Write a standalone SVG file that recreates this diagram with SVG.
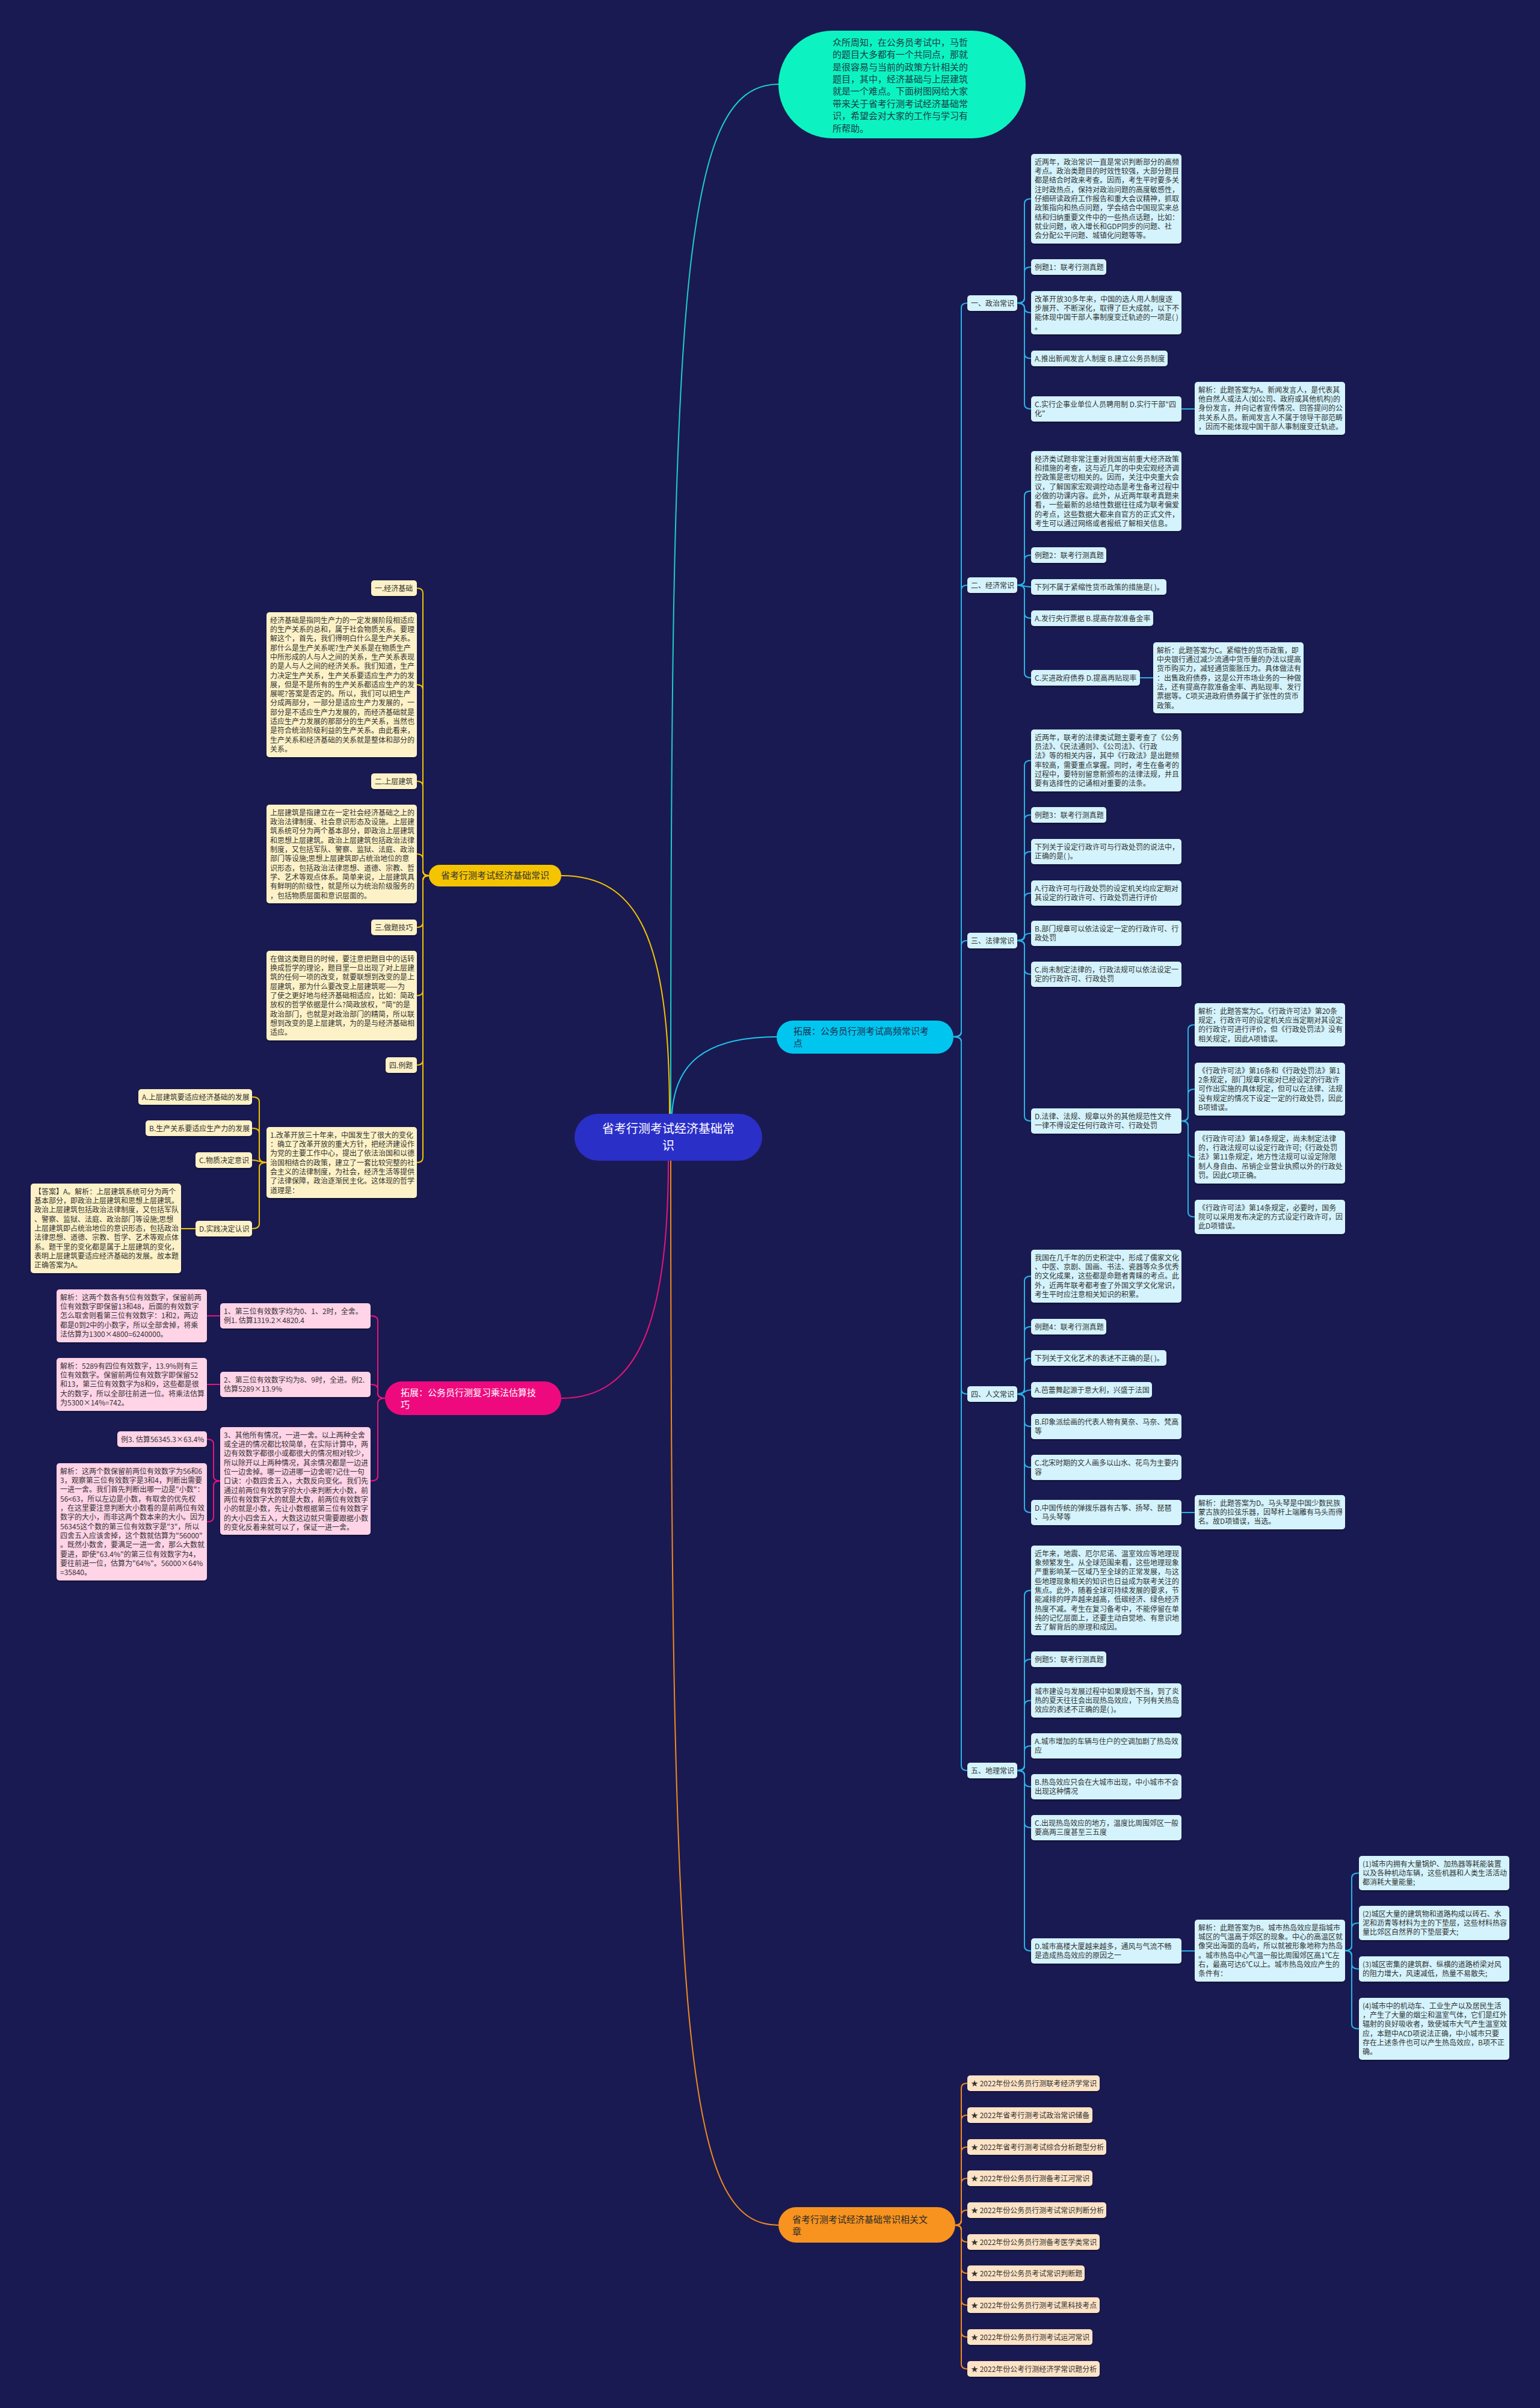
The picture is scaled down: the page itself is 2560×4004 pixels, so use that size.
<svg xmlns="http://www.w3.org/2000/svg" width="2560" height="4004" viewBox="0 0 2560 4004">
<defs>
<filter id="sh" x="-5%" y="-5%" width="110%" height="120%"><feDropShadow dx="0" dy="2" stdDeviation="1.2" flood-color="#000" flood-opacity="0.35"/></filter>
<style>
text{font-family:"Noto Sans CJK SC","Noto Sans",sans-serif;}
.t{font-size:12px;fill:#333;}
.cb{fill:#d4f3fc;filter:url(#sh);}
.yb{fill:#fdf2c7;filter:url(#sh);}
.pb{fill:#ffd4e7;filter:url(#sh);}
.ob{fill:#fde3c6;filter:url(#sh);}
.c{fill:none;stroke-width:2;stroke-linecap:round;}
.lc{stroke:#29b3e6;}
.ly{stroke:#f3c300;}
.lp{stroke:#e8147a;}
.lo{stroke:#f08a1e;}
.n15{font-size:15px;}
</style>
</defs>
<rect width="2560" height="4004" fill="#1a1a52"/>

<g id="connectors">
<path class="c" stroke="#1ecfc4" stroke-width="2.5" d="M1115,1852 C1115,500 1130,140 1294,140"/>
<path class="c ly" stroke-width="2.5" d="M1113,1852 C1113,1560 1060,1456 933,1456"/>
<path class="c" stroke="#1ec8ee" stroke-width="2.5" d="M1117,1852 C1122,1770 1170,1724 1291,1724"/>
<path class="c lp" stroke-width="2.5" d="M1111,1930 C1111,2200 1060,2325 933,2325"/>
<path class="c lo" stroke-width="2.5" d="M1115,1930 C1115,3400 1140,3700 1294,3700"/>

<path class="c lc" d="M1585,1724 Q1598,1724 1598,1716 L1598,512 Q1598,504 1608,504"/>
<path class="c lc" d="M1585,1724 Q1598,1724 1598,1716 L1598,981 Q1598,973 1608,973"/>
<path class="c lc" d="M1585,1724 Q1598,1724 1598,1716 L1598,1572 Q1598,1564 1608,1564"/>
<path class="c lc" d="M1585,1724 Q1598,1724 1598,1732 L1598,2310 Q1598,2318 1608,2318"/>
<path class="c lc" d="M1585,1724 Q1598,1724 1598,1732 L1598,2936 Q1598,2944 1608,2944"/>

<path class="c lc" d="M1691,504 Q1703,504 1703,496 L1703,338.5 Q1703,330.5 1714,330.5"/>
<path class="c lc" d="M1691,504 Q1703,504 1703,496 L1703,452 Q1703,444 1714,444"/>
<path class="c lc" d="M1691,504 Q1703,504 1703,512 Q1703,520 1714,520"/>
<path class="c lc" d="M1691,504 Q1703,504 1703,512 L1703,588 Q1703,596 1714,596"/>
<path class="c lc" d="M1691,504 Q1703,504 1703,512 L1703,672 Q1703,680 1714,680"/>
<path class="c lc" d="M1964,680 L1986,680"/>

<path class="c lc" d="M1691,973 Q1703,973 1703,965 L1703,824.5 Q1703,816.5 1714,816.5"/>
<path class="c lc" d="M1691,973 Q1703,973 1703,965 L1703,931 Q1703,923 1714,923"/>
<path class="c lc" d="M1691,973 C1703,973 1703,976 1714,976"/>
<path class="c lc" d="M1691,973 Q1703,973 1703,981 L1703,1020 Q1703,1028 1714,1028"/>
<path class="c lc" d="M1691,973 Q1703,973 1703,981 L1703,1119 Q1703,1127 1714,1127"/>
<path class="c lc" d="M1895,1127 L1917,1127"/>

<path class="c lc" d="M1691,1564 Q1703,1564 1703,1556 L1703,1272.5 Q1703,1264.5 1714,1264.5"/>
<path class="c lc" d="M1691,1564 Q1703,1564 1703,1556 L1703,1363 Q1703,1355 1714,1355"/>
<path class="c lc" d="M1691,1564 Q1703,1564 1703,1556 L1703,1424 Q1703,1416 1714,1416"/>
<path class="c lc" d="M1691,1564 Q1703,1564 1703,1556 L1703,1493 Q1703,1485 1714,1485"/>
<path class="c lc" d="M1691,1564 Q1703,1564 1703,1558 Q1703,1552 1714,1552"/>
<path class="c lc" d="M1691,1564 Q1703,1564 1703,1572 L1703,1612 Q1703,1620 1714,1620"/>
<path class="c lc" d="M1691,1564 Q1703,1564 1703,1572 L1703,1856 Q1703,1864 1714,1864"/>
<path class="c lc" d="M1964,1864 Q1975,1864 1975,1856 L1975,1712 Q1975,1704 1986,1704"/>
<path class="c lc" d="M1964,1864 Q1975,1864 1975,1856 L1975,1819 Q1975,1811 1986,1811"/>
<path class="c lc" d="M1964,1864 Q1975,1864 1975,1872 L1975,1916 Q1975,1924 1986,1924"/>
<path class="c lc" d="M1964,1864 Q1975,1864 1975,1872 L1975,2015.5 Q1975,2023.5 1986,2023.5"/>

<path class="c lc" d="M1691,2318 Q1703,2318 1703,2310 L1703,2130 Q1703,2122 1714,2122"/>
<path class="c lc" d="M1691,2318 Q1703,2318 1703,2310 L1703,2214 Q1703,2206 1714,2206"/>
<path class="c lc" d="M1691,2318 Q1703,2318 1703,2310 L1703,2266.5 Q1703,2258.5 1714,2258.5"/>
<path class="c lc" d="M1691,2318 C1703,2318 1703,2311 1714,2311"/>
<path class="c lc" d="M1691,2318 Q1703,2318 1703,2326 L1703,2364 Q1703,2372 1714,2372"/>
<path class="c lc" d="M1691,2318 Q1703,2318 1703,2326 L1703,2432 Q1703,2440 1714,2440"/>
<path class="c lc" d="M1691,2318 Q1703,2318 1703,2326 L1703,2507 Q1703,2515 1714,2515"/>
<path class="c lc" d="M1964,2515 L1986,2515"/>

<path class="c lc" d="M1691,2944 Q1703,2944 1703,2936 L1703,2652.5 Q1703,2644.5 1714,2644.5"/>
<path class="c lc" d="M1691,2944 Q1703,2944 1703,2936 L1703,2767 Q1703,2759 1714,2759"/>
<path class="c lc" d="M1691,2944 Q1703,2944 1703,2936 L1703,2835.5 Q1703,2827.5 1714,2827.5"/>
<path class="c lc" d="M1691,2944 Q1703,2944 1703,2936 L1703,2911 Q1703,2903 1714,2903"/>
<path class="c lc" d="M1691,2944 Q1703,2944 1703,2952 L1703,2963 Q1703,2971 1714,2971"/>
<path class="c lc" d="M1691,2944 Q1703,2944 1703,2952 L1703,3031 Q1703,3039 1714,3039"/>
<path class="c lc" d="M1691,2944 Q1703,2944 1703,2952 L1703,3236 Q1703,3244 1714,3244"/>
<path class="c lc" d="M1964,3244 L1986,3244"/>
<path class="c lc" d="M2236,3243.5 Q2247,3243.5 2247,3235.5 L2247,3122.5 Q2247,3114.5 2259,3114.5"/>
<path class="c lc" d="M2236,3243.5 Q2247,3243.5 2247,3235.5 L2247,3205.5 Q2247,3197.5 2259,3197.5"/>
<path class="c lc" d="M2236,3243.5 Q2247,3243.5 2247,3251.5 L2247,3266 Q2247,3274 2259,3274"/>
<path class="c lc" d="M2236,3243.5 Q2247,3243.5 2247,3251.5 L2247,3365.5 Q2247,3373.5 2259,3373.5"/>

<path class="c lo" d="M1588,3700 Q1598,3700 1598,3692 L1598,3472 Q1598,3464 1608,3464"/>
<path class="c lo" d="M1588,3700 Q1598,3700 1598,3692 L1598,3525 Q1598,3517 1608,3517"/>
<path class="c lo" d="M1588,3700 Q1598,3700 1598,3692 L1598,3578 Q1598,3570 1608,3570"/>
<path class="c lo" d="M1588,3700 Q1598,3700 1598,3692 L1598,3630 Q1598,3622 1608,3622"/>
<path class="c lo" d="M1588,3700 Q1598,3700 1598,3692 L1598,3683 Q1598,3675 1608,3675"/>
<path class="c lo" d="M1588,3700 Q1598,3700 1598,3708 L1598,3720 Q1598,3728 1608,3728"/>
<path class="c lo" d="M1588,3700 Q1598,3700 1598,3708 L1598,3772 Q1598,3780 1608,3780"/>
<path class="c lo" d="M1588,3700 Q1598,3700 1598,3708 L1598,3825 Q1598,3833 1608,3833"/>
<path class="c lo" d="M1588,3700 Q1598,3700 1598,3708 L1598,3878 Q1598,3886 1608,3886"/>
<path class="c lo" d="M1588,3700 Q1598,3700 1598,3708 L1598,3931 Q1598,3939 1608,3939"/>

<path class="c ly" d="M713,1456 Q703,1456 703,1448 L703,986 Q703,978 693,978"/>
<path class="c ly" d="M713,1456 Q703,1456 703,1448 L703,1146.5 Q703,1138.5 693,1138.5"/>
<path class="c ly" d="M713,1456 Q703,1456 703,1448 L703,1307 Q703,1299 693,1299"/>
<path class="c ly" d="M713,1456 Q703,1456 703,1448 L703,1428 Q703,1420 693,1420"/>
<path class="c ly" d="M713,1456 Q703,1456 703,1464 L703,1534 Q703,1542 693,1542"/>
<path class="c ly" d="M713,1456 Q703,1456 703,1464 L703,1647.5 Q703,1655.5 693,1655.5"/>
<path class="c ly" d="M713,1456 Q703,1456 703,1464 L703,1763 Q703,1771 693,1771"/>
<path class="c ly" d="M713,1456 Q703,1456 703,1464 L703,1925 Q703,1933 693,1933"/>
<path class="c ly" d="M443,1933 Q431,1933 431,1925 L431,1832 Q431,1824 419,1824"/>
<path class="c ly" d="M443,1933 Q431,1933 431,1925 L431,1884 Q431,1876 419,1876"/>
<path class="c ly" d="M443,1933 C431,1933 431,1929 419,1929"/>
<path class="c ly" d="M443,1933 Q431,1933 431,1941 L431,2035 Q431,2043 419,2043"/>
<path class="c ly" d="M325,2043 L301,2043"/>

<path class="c lp" d="M640,2325 Q628,2325 628,2317 L628,2196 Q628,2188 616,2188"/>
<path class="c lp" d="M640,2325 Q628,2325 628,2317 L628,2310 Q628,2302 616,2302"/>
<path class="c lp" d="M640,2325 Q628,2325 628,2333 L628,2454.5 Q628,2462.5 616,2462.5"/>
<path class="c lp" d="M366,2188 L344,2188"/>
<path class="c lp" d="M366,2302 L344,2302"/>
<path class="c lp" d="M366,2462.5 Q355,2462.5 355,2454.5 L355,2401 Q355,2393 344,2393"/>
<path class="c lp" d="M366,2462.5 Q355,2462.5 355,2470.5 L355,2522.5 Q355,2530.5 344,2530.5"/>
</g>

<g id="root">
<rect x="955" y="1852" width="312" height="78" rx="39" fill="#2a2fc8"/>
<text font-size="20" fill="#fff" text-anchor="middle"><tspan x="1111" y="1884">省考行测考试经济基础常</tspan><tspan x="1111" y="1912">识</tspan></text>
</g>

<g id="intro">
<rect x="1294" y="51" width="411" height="179" rx="89.5" fill="#0cf3c1"/>
<text class="n15" fill="#1d3b45"><tspan x="1384" y="76">众所周知，在公务员考试中，马哲</tspan><tspan x="1384" y="96">的题目大多都有一个共同点，那就</tspan><tspan x="1384" y="117">是很容易与当前的政策方针相关的</tspan><tspan x="1384" y="137">题目，其中，经济基础与上层建筑</tspan><tspan x="1384" y="157">就是一个难点。下面树图网给大家</tspan><tspan x="1384" y="178">带来关于省考行测考试经济基础常</tspan><tspan x="1384" y="198">识，希望会对大家的工作与学习有</tspan><tspan x="1384" y="219">所帮助。</tspan></text>
</g>

<g id="b-cyan">
<rect x="1291" y="1697" width="294" height="55" rx="27.5" fill="#00c6ef"/>
<text class="n15" fill="#1f2d4d"><tspan x="1319" y="1720">拓展：公务员行测考试高频常识考</tspan><tspan x="1319" y="1740">点</tspan></text>
</g>

<g id="b-yellow">
<rect x="713" y="1438" width="220" height="36" rx="18" fill="#f5c400"/>
<text class="n15" fill="#333" text-anchor="middle" x="823" y="1461">省考行测考试经济基础常识</text>
</g>

<g id="b-pink">
<rect x="640" y="2297" width="293" height="56" rx="28" fill="#ee0a7e"/>
<text class="n15" fill="#fff"><tspan x="666" y="2321">拓展：公务员行测复习乘法估算技</tspan><tspan x="666" y="2341">巧</tspan></text>
</g>

<g id="b-orange">
<rect x="1294" y="3670" width="294" height="59" rx="29.5" fill="#f7931e"/>
<text class="n15" fill="#2a2a2a"><tspan x="1317" y="3696">省考行测考试经济基础常识相关文</tspan><tspan x="1317" y="3716">章</tspan></text>
</g>

<!-- section headers -->
<g id="s1"><rect class="cb" x="1608" y="491" width="83" height="26" rx="5"/><text class="t" x="1614" y="509">一、政治常识</text></g>
<g id="s2"><rect class="cb" x="1608" y="960" width="83" height="26" rx="5"/><text class="t" x="1614" y="978">二、经济常识</text></g>
<g id="s3"><rect class="cb" x="1608" y="1551" width="83" height="26" rx="5"/><text class="t" x="1614" y="1569">三、法律常识</text></g>
<g id="s4"><rect class="cb" x="1608" y="2305" width="83" height="26" rx="5"/><text class="t" x="1614" y="2323">四、人文常识</text></g>
<g id="s5"><rect class="cb" x="1608" y="2931" width="83" height="26" rx="5"/><text class="t" x="1614" y="2949">五、地理常识</text></g>

<!-- section 1 -->
<g id="n1-1"><rect class="cb" x="1714" y="256" width="250" height="149" rx="5"/><text class="t"><tspan x="1720" y="274">近两年，政治常识一直是常识判断部分的高频</tspan><tspan x="1720" y="289">考点。政治类题目的时效性较强，大部分题目</tspan><tspan x="1720" y="304">都是结合时政来考查。因而，考生平时要多关</tspan><tspan x="1720" y="320">注时政热点，保持对政治问题的高度敏感性，</tspan><tspan x="1720" y="335">仔细研读政府工作报告和重大会议精神，抓取</tspan><tspan x="1720" y="350">政策指向和热点问题，学会结合中国现实来总</tspan><tspan x="1720" y="366">结和归纳重要文件中的一些热点话题，比如：</tspan><tspan x="1720" y="381">就业问题，收入增长和GDP同步的问题、社</tspan><tspan x="1720" y="396">会分配公平问题、城镇化问题等等。</tspan></text></g>
<g id="n1-2"><rect class="cb" x="1714" y="431" width="125" height="26" rx="5"/><text class="t" x="1720" y="449">例题1：联考行测真题</text></g>
<g id="n1-3"><rect class="cb" x="1714" y="484" width="250" height="72" rx="5"/><text class="t"><tspan x="1720" y="502">改革开放30多年来，中国的选人用人制度逐</tspan><tspan x="1720" y="517">步展开、不断深化，取得了巨大成就，以下不</tspan><tspan x="1720" y="532">能体现中国干部人事制度变迁轨迹的一项是( )</tspan><tspan x="1720" y="548">。</tspan></text></g>
<g id="n1-4"><rect class="cb" x="1714" y="583" width="227" height="26" rx="5"/><text class="t" x="1720" y="601">A.推出新闻发言人制度 B.建立公务员制度</text></g>
<g id="n1-5"><rect class="cb" x="1714" y="659" width="250" height="42" rx="5"/><text class="t"><tspan x="1720" y="677">C.实行企事业单位人员聘用制 D.实行干部"四</tspan><tspan x="1720" y="692">化"</tspan></text></g>
<g id="n1-6"><rect class="cb" x="1986" y="635" width="250" height="88" rx="5"/><text class="t"><tspan x="1992" y="653">解析：此题答案为A。新闻发言人，是代表其</tspan><tspan x="1992" y="668">他自然人或法人(如公司、政府或其他机构)的</tspan><tspan x="1992" y="683">身份发言，并向记者宣传情况、回答提问的公</tspan><tspan x="1992" y="699">共关系人员。新闻发言人不属于领导干部范畴</tspan><tspan x="1992" y="714">，因而不能体现中国干部人事制度变迁轨迹。</tspan></text></g>

<!-- section 2 -->
<g id="n2-1"><rect class="cb" x="1714" y="750" width="250" height="133" rx="5"/><text class="t"><tspan x="1720" y="768">经济类试题非常注重对我国当前重大经济政策</tspan><tspan x="1720" y="783">和措施的考查，这与近几年的中央宏观经济调</tspan><tspan x="1720" y="798">控政策是密切相关的。因而，关注中央重大会</tspan><tspan x="1720" y="814">议，了解国家宏观调控动态是考生备考过程中</tspan><tspan x="1720" y="829">必做的功课内容。此外，从近两年联考真题来</tspan><tspan x="1720" y="844">看，一些最新的总结性数据往往成为联考偏爱</tspan><tspan x="1720" y="860">的考点，这些数据大都来自官方的正式文件，</tspan><tspan x="1720" y="875">考生可以通过网络或者报纸了解相关信息。</tspan></text></g>
<g id="n2-2"><rect class="cb" x="1714" y="910" width="125" height="26" rx="5"/><text class="t" x="1720" y="928">例题2：联考行测真题</text></g>
<g id="n2-3"><rect class="cb" x="1714" y="963" width="225" height="26" rx="5"/><text class="t" x="1720" y="981">下列不属于紧缩性货币政策的措施是( )。</text></g>
<g id="n2-4"><rect class="cb" x="1714" y="1015" width="203" height="26" rx="5"/><text class="t" x="1720" y="1033">A.发行央行票据 B.提高存款准备金率</text></g>
<g id="n2-5"><rect class="cb" x="1714" y="1114" width="181" height="26" rx="5"/><text class="t" x="1720" y="1132">C.买进政府债券 D.提高再贴现率</text></g>
<g id="n2-6"><rect class="cb" x="1917" y="1068" width="250" height="118" rx="5"/><text class="t"><tspan x="1923" y="1086">解析：此题答案为C。紧缩性的货币政策，即</tspan><tspan x="1923" y="1101">中央银行通过减少流通中货币量的办法以提高</tspan><tspan x="1923" y="1116">货币购买力，减轻通货膨胀压力。具体做法有</tspan><tspan x="1923" y="1132">：出售政府债券，这是公开市场业务的一种做</tspan><tspan x="1923" y="1147">法，还有提高存款准备金率、再贴现率、发行</tspan><tspan x="1923" y="1162">票据等。C项买进政府债券属于扩张性的货币</tspan><tspan x="1923" y="1178">政策。</tspan></text></g>

<!-- section 3 -->
<g id="n3-1"><rect class="cb" x="1714" y="1213" width="250" height="103" rx="5"/><text class="t"><tspan x="1720" y="1231">近两年，联考的法律类试题主要考查了《公务</tspan><tspan x="1720" y="1246">员法》、《民法通则》、《公司法》、《行政</tspan><tspan x="1720" y="1261">法》等的相关内容，其中《行政法》是出题频</tspan><tspan x="1720" y="1277">率较高，需要重点掌握。同时，考生在备考的</tspan><tspan x="1720" y="1292">过程中，要特别留意新颁布的法律法规，并且</tspan><tspan x="1720" y="1307">要有选择性的记诵相对重要的法条。</tspan></text></g>
<g id="n3-2"><rect class="cb" x="1714" y="1342" width="125" height="26" rx="5"/><text class="t" x="1720" y="1360">例题3：联考行测真题</text></g>
<g id="n3-3"><rect class="cb" x="1714" y="1395" width="250" height="42" rx="5"/><text class="t"><tspan x="1720" y="1413">下列关于设定行政许可与行政处罚的说法中，</tspan><tspan x="1720" y="1428">正确的是( )。</tspan></text></g>
<g id="n3-4"><rect class="cb" x="1714" y="1464" width="250" height="42" rx="5"/><text class="t"><tspan x="1720" y="1482">A.行政许可与行政处罚的设定机关均应定期对</tspan><tspan x="1720" y="1497">其设定的行政许可、行政处罚进行评价</tspan></text></g>
<g id="n3-5"><rect class="cb" x="1714" y="1531" width="250" height="42" rx="5"/><text class="t"><tspan x="1720" y="1549">B.部门规章可以依法设定一定的行政许可、行</tspan><tspan x="1720" y="1564">政处罚</tspan></text></g>
<g id="n3-6"><rect class="cb" x="1714" y="1599" width="250" height="42" rx="5"/><text class="t"><tspan x="1720" y="1617">C.尚未制定法律的，行政法规可以依法设定一</tspan><tspan x="1720" y="1632">定的行政许可、行政处罚</tspan></text></g>
<g id="n3-7"><rect class="cb" x="1714" y="1843" width="250" height="42" rx="5"/><text class="t"><tspan x="1720" y="1861">D.法律、法规、规章以外的其他规范性文件</tspan><tspan x="1720" y="1876">一律不得设定任何行政许可、行政处罚</tspan></text></g>
<g id="n3-8"><rect class="cb" x="1986" y="1668" width="250" height="72" rx="5"/><text class="t"><tspan x="1992" y="1686">解析：此题答案为C。《行政许可法》第20条</tspan><tspan x="1992" y="1701">规定，行政许可的设定机关应当定期对其设定</tspan><tspan x="1992" y="1716">的行政许可进行评价，但《行政处罚法》没有</tspan><tspan x="1992" y="1732">相关规定，因此A项错误。</tspan></text></g>
<g id="n3-9"><rect class="cb" x="1986" y="1767" width="250" height="88" rx="5"/><text class="t"><tspan x="1992" y="1785">《行政许可法》第16条和《行政处罚法》第1</tspan><tspan x="1992" y="1800">2条规定，部门规章只能对已经设定的行政许</tspan><tspan x="1992" y="1815">可作出实施的具体规定，但可以在法律、法规</tspan><tspan x="1992" y="1831">没有规定的情况下设定一定的行政处罚，因此</tspan><tspan x="1992" y="1846">B项错误。</tspan></text></g>
<g id="n3-10"><rect class="cb" x="1986" y="1880" width="250" height="88" rx="5"/><text class="t"><tspan x="1992" y="1898">《行政许可法》第14条规定，尚未制定法律</tspan><tspan x="1992" y="1913">的，行政法规可以设定行政许可;《行政处罚</tspan><tspan x="1992" y="1928">法》第11条规定，地方性法规可以设定除限</tspan><tspan x="1992" y="1944">制人身自由、吊销企业营业执照以外的行政处</tspan><tspan x="1992" y="1959">罚。因此C项正确。</tspan></text></g>
<g id="n3-11"><rect class="cb" x="1986" y="1995" width="250" height="57" rx="5"/><text class="t"><tspan x="1992" y="2013">《行政许可法》第14条规定，必要时，国务</tspan><tspan x="1992" y="2028">院可以采用发布决定的方式设定行政许可，因</tspan><tspan x="1992" y="2043">此D项错误。</tspan></text></g>

<!-- section 4 -->
<g id="n4-1"><rect class="cb" x="1714" y="2078" width="250" height="88" rx="5"/><text class="t"><tspan x="1720" y="2096">我国在几千年的历史积淀中，形成了儒家文化</tspan><tspan x="1720" y="2111">、中医、京剧、国画、书法、瓷器等众多优秀</tspan><tspan x="1720" y="2126">的文化成果，这些都是命题者青睐的考点。此</tspan><tspan x="1720" y="2142">外，近两年联考都考查了外国文学文化常识，</tspan><tspan x="1720" y="2157">考生平时应注意相关知识的积累。</tspan></text></g>
<g id="n4-2"><rect class="cb" x="1714" y="2193" width="125" height="26" rx="5"/><text class="t" x="1720" y="2211">例题4：联考行测真题</text></g>
<g id="n4-3"><rect class="cb" x="1714" y="2245" width="225" height="26" rx="5"/><text class="t" x="1720" y="2263">下列关于文化艺术的表述不正确的是( )。</text></g>
<g id="n4-4"><rect class="cb" x="1714" y="2298" width="201" height="26" rx="5"/><text class="t" x="1720" y="2316">A.芭蕾舞起源于意大利，兴盛于法国</text></g>
<g id="n4-5"><rect class="cb" x="1714" y="2351" width="250" height="42" rx="5"/><text class="t"><tspan x="1720" y="2369">B.印象派绘画的代表人物有莫奈、马奈、梵高</tspan><tspan x="1720" y="2384">等</tspan></text></g>
<g id="n4-6"><rect class="cb" x="1714" y="2419" width="250" height="42" rx="5"/><text class="t"><tspan x="1720" y="2437">C.北宋时期的文人画多以山水、花鸟为主要内</tspan><tspan x="1720" y="2452">容</tspan></text></g>
<g id="n4-7"><rect class="cb" x="1714" y="2494" width="250" height="42" rx="5"/><text class="t"><tspan x="1720" y="2512">D.中国传统的弹拨乐器有古筝、扬琴、琵琶</tspan><tspan x="1720" y="2527">、马头琴等</tspan></text></g>
<g id="n4-8"><rect class="cb" x="1986" y="2486" width="250" height="57" rx="5"/><text class="t"><tspan x="1992" y="2504">解析：此题答案为D。马头琴是中国少数民族</tspan><tspan x="1992" y="2519">蒙古族的拉弦乐器，因琴杆上端雕有马头而得</tspan><tspan x="1992" y="2534">名。故D项错误，当选。</tspan></text></g>

<!-- section 5 -->
<g id="n5-1"><rect class="cb" x="1714" y="2570" width="250" height="149" rx="5"/><text class="t"><tspan x="1720" y="2588">近年来，地震、厄尔尼诺、温室效应等地理现</tspan><tspan x="1720" y="2603">象频繁发生。从全球范围来看，这些地理现象</tspan><tspan x="1720" y="2618">严重影响某一区域乃至全球的正常发展，与这</tspan><tspan x="1720" y="2634">些地理现象相关的知识也日益成为联考关注的</tspan><tspan x="1720" y="2649">焦点。此外，随着全球可持续发展的要求，节</tspan><tspan x="1720" y="2664">能减排的呼声越来越高，低碳经济、绿色经济</tspan><tspan x="1720" y="2680">热度不减。考生在复习备考中，不能停留在单</tspan><tspan x="1720" y="2695">纯的记忆层面上，还要主动自觉地、有意识地</tspan><tspan x="1720" y="2710">去了解背后的原理和成因。</tspan></text></g>
<g id="n5-2"><rect class="cb" x="1714" y="2746" width="125" height="26" rx="5"/><text class="t" x="1720" y="2764">例题5：联考行测真题</text></g>
<g id="n5-3"><rect class="cb" x="1714" y="2799" width="250" height="57" rx="5"/><text class="t"><tspan x="1720" y="2817">城市建设与发展过程中如果规划不当，到了炎</tspan><tspan x="1720" y="2832">热的夏天往往会出现热岛效应，下列有关热岛</tspan><tspan x="1720" y="2847">效应的表述不正确的是( )。</tspan></text></g>
<g id="n5-4"><rect class="cb" x="1714" y="2882" width="250" height="42" rx="5"/><text class="t"><tspan x="1720" y="2900">A.城市增加的车辆与住户的空调加剧了热岛效</tspan><tspan x="1720" y="2915">应</tspan></text></g>
<g id="n5-5"><rect class="cb" x="1714" y="2950" width="250" height="42" rx="5"/><text class="t"><tspan x="1720" y="2968">B.热岛效应只会在大城市出现，中小城市不会</tspan><tspan x="1720" y="2983">出现这种情况</tspan></text></g>
<g id="n5-6"><rect class="cb" x="1714" y="3018" width="250" height="42" rx="5"/><text class="t"><tspan x="1720" y="3036">C.出现热岛效应的地方，温度比周围郊区一般</tspan><tspan x="1720" y="3051">要高两三度甚至三五度</tspan></text></g>
<g id="n5-7"><rect class="cb" x="1714" y="3223" width="250" height="42" rx="5"/><text class="t"><tspan x="1720" y="3241">D.城市高楼大厦越来越多，通风与气流不畅</tspan><tspan x="1720" y="3256">是造成热岛效应的原因之一</tspan></text></g>
<g id="n5-8"><rect class="cb" x="1986" y="3192" width="250" height="103" rx="5"/><text class="t"><tspan x="1992" y="3210">解析：此题答案为B。城市热岛效应是指城市</tspan><tspan x="1992" y="3225">城区的气温高于郊区的现象。中心的高温区就</tspan><tspan x="1992" y="3240">像突出海面的岛屿，所以就被形象地称为热岛</tspan><tspan x="1992" y="3256">。城市热岛中心气温一般比周围郊区高1℃左</tspan><tspan x="1992" y="3271">右，最高可达6℃以上。城市热岛效应产生的</tspan><tspan x="1992" y="3286">条件有：</tspan></text></g>
<g id="n5-9"><rect class="cb" x="2259" y="3086" width="250" height="57" rx="5"/><text class="t"><tspan x="2265" y="3104">(1)城市内拥有大量锅炉、加热器等耗能装置</tspan><tspan x="2265" y="3119">以及各种机动车辆，这些机器和人类生活活动</tspan><tspan x="2265" y="3134">都消耗大量能量;</tspan></text></g>
<g id="n5-10"><rect class="cb" x="2259" y="3169" width="250" height="57" rx="5"/><text class="t"><tspan x="2265" y="3187">(2)城区大量的建筑物和道路构成以砖石、水</tspan><tspan x="2265" y="3202">泥和沥青等材料为主的下垫层，这些材料热容</tspan><tspan x="2265" y="3217">量比郊区自然界的下垫层要大;</tspan></text></g>
<g id="n5-11"><rect class="cb" x="2259" y="3253" width="250" height="42" rx="5"/><text class="t"><tspan x="2265" y="3271">(3)城区密集的建筑群、纵横的道路桥梁对风</tspan><tspan x="2265" y="3286">的阻力增大，风速减低，热量不易散失;</tspan></text></g>
<g id="n5-12"><rect class="cb" x="2259" y="3322" width="250" height="103" rx="5"/><text class="t"><tspan x="2265" y="3340">(4)城市中的机动车、工业生产以及居民生活</tspan><tspan x="2265" y="3355">，产生了大量的烟尘和温室气体，它们是红外</tspan><tspan x="2265" y="3370">辐射的良好吸收者，致使城市大气产生温室效</tspan><tspan x="2265" y="3386">应，本题中ACD项说法正确，中小城市只要</tspan><tspan x="2265" y="3401">存在上述条件也可以产生热岛效应，B项不正</tspan><tspan x="2265" y="3416">确。</tspan></text></g>

<!-- orange list -->
<g id="o1"><rect class="ob" x="1608" y="3451" width="220" height="26" rx="5"/><text class="t" x="1614" y="3469">★ 2022年份公务员行测联考经济学常识</text></g>
<g id="o2"><rect class="ob" x="1608" y="3504" width="208" height="26" rx="5"/><text class="t" x="1614" y="3522">★ 2022年省考行测考试政治常识储备</text></g>
<g id="o3"><rect class="ob" x="1608" y="3557" width="231" height="26" rx="5"/><text class="t" x="1614" y="3575">★ 2022年省考行测考试综合分析题型分析</text></g>
<g id="o4"><rect class="ob" x="1608" y="3609" width="208" height="26" rx="5"/><text class="t" x="1614" y="3627">★ 2022年份公务员行测备考江河常识</text></g>
<g id="o5"><rect class="ob" x="1608" y="3662" width="231" height="26" rx="5"/><text class="t" x="1614" y="3680">★ 2022年份公务员行测考试常识判断分析</text></g>
<g id="o6"><rect class="ob" x="1608" y="3715" width="220" height="26" rx="5"/><text class="t" x="1614" y="3733">★ 2022年份公务员行测备考医学类常识</text></g>
<g id="o7"><rect class="ob" x="1608" y="3767" width="195" height="26" rx="5"/><text class="t" x="1614" y="3785">★ 2022年份公务员考试常识判断题</text></g>
<g id="o8"><rect class="ob" x="1608" y="3820" width="220" height="26" rx="5"/><text class="t" x="1614" y="3838">★ 2022年份公务员行测考试黑科技考点</text></g>
<g id="o9"><rect class="ob" x="1608" y="3873" width="208" height="26" rx="5"/><text class="t" x="1614" y="3891">★ 2022年份公务员行测考试运河常识</text></g>
<g id="o10"><rect class="ob" x="1608" y="3926" width="220" height="26" rx="5"/><text class="t" x="1614" y="3944">★ 2022年份公考行测经济学常识题分析</text></g>

<!-- yellow branch -->
<g id="y1"><rect class="yb" x="617" y="965" width="76" height="26" rx="5"/><text class="t" x="623" y="983">一.经济基础</text></g>
<g id="y2"><rect class="yb" x="443" y="1018" width="250" height="241" rx="5"/><text class="t"><tspan x="449" y="1036">经济基础是指同生产力的一定发展阶段相适应</tspan><tspan x="449" y="1051">的生产关系的总和，属于社会物质关系。要理</tspan><tspan x="449" y="1066">解这个，首先，我们得明白什么是生产关系。</tspan><tspan x="449" y="1082">那什么是生产关系呢?生产关系是在物质生产</tspan><tspan x="449" y="1097">中所形成的人与人之间的关系，生产关系表现</tspan><tspan x="449" y="1112">的是人与人之间的经济关系。我们知道，生产</tspan><tspan x="449" y="1128">力决定生产关系，生产关系要适应生产力的发</tspan><tspan x="449" y="1143">展，但是不是所有的生产关系都适应生产的发</tspan><tspan x="449" y="1158">展呢?答案是否定的。所以，我们可以把生产</tspan><tspan x="449" y="1173">分成两部分，一部分是适应生产力发展的，一</tspan><tspan x="449" y="1189">部分是不适应生产力发展的，而经济基础就是</tspan><tspan x="449" y="1204">适应生产力发展的那部分的生产关系，当然也</tspan><tspan x="449" y="1219">是符合统治阶级利益的生产关系。由此看来，</tspan><tspan x="449" y="1235">生产关系和经济基础的关系就是整体和部分的</tspan><tspan x="449" y="1250">关系。</tspan></text></g>
<g id="y3"><rect class="yb" x="617" y="1286" width="76" height="26" rx="5"/><text class="t" x="623" y="1304">二.上层建筑</text></g>
<g id="y4"><rect class="yb" x="443" y="1338" width="250" height="164" rx="5"/><text class="t"><tspan x="449" y="1356">上层建筑是指建立在一定社会经济基础之上的</tspan><tspan x="449" y="1371">政治法律制度、社会意识形态及设施。上层建</tspan><tspan x="449" y="1386">筑系统可分为两个基本部分，即政治上层建筑</tspan><tspan x="449" y="1402">和思想上层建筑。政治上层建筑包括政治法律</tspan><tspan x="449" y="1417">制度，又包括军队、警察、监狱、法庭、政治</tspan><tspan x="449" y="1432">部门等设施;思想上层建筑即占统治地位的意</tspan><tspan x="449" y="1448">识形态，包括政治法律思想、道德、宗教、哲</tspan><tspan x="449" y="1463">学、艺术等观点体系。简单来说，上层建筑具</tspan><tspan x="449" y="1478">有鲜明的阶级性，就是所以为统治阶级服务的</tspan><tspan x="449" y="1494">，包括物质层面和意识层面的。</tspan></text></g>
<g id="y5"><rect class="yb" x="617" y="1529" width="76" height="26" rx="5"/><text class="t" x="623" y="1547">三.做题技巧</text></g>
<g id="y6"><rect class="yb" x="443" y="1581" width="250" height="149" rx="5"/><text class="t"><tspan x="449" y="1599">在做这类题目的时候，要注意把题目中的话转</tspan><tspan x="449" y="1614">换成哲学的理论，题目里一旦出现了对上层建</tspan><tspan x="449" y="1629">筑的任何一项的改变，就要联想到改变的是上</tspan><tspan x="449" y="1645">层建筑，那为什么要改变上层建筑呢——为</tspan><tspan x="449" y="1660">了使之更好地与经济基础相适应，比如：简政</tspan><tspan x="449" y="1675">放权的哲学依据是什么?简政放权，"简"的是</tspan><tspan x="449" y="1691">政治部门，也就是对政治部门的精简，所以联</tspan><tspan x="449" y="1706">想到改变的是上层建筑，为的是与经济基础相</tspan><tspan x="449" y="1721">适应。</tspan></text></g>
<g id="y7"><rect class="yb" x="641" y="1758" width="52" height="26" rx="5"/><text class="t" x="647" y="1776">四.例题</text></g>
<g id="y8"><rect class="yb" x="443" y="1874" width="250" height="118" rx="5"/><text class="t"><tspan x="449" y="1892">1.改革开放三十年来，中国发生了很大的变化</tspan><tspan x="449" y="1907">：确立了改革开放的重大方针，把经济建设作</tspan><tspan x="449" y="1922">为党的主要工作中心，提出了依法治国和以德</tspan><tspan x="449" y="1938">治国相结合的政策，建立了一套比较完整的社</tspan><tspan x="449" y="1953">会主义的法律制度，为社会，经济生活等提供</tspan><tspan x="449" y="1968">了法律保障，政治逐渐民主化。这体现的哲学</tspan><tspan x="449" y="1984">道理是：</tspan></text></g>
<g id="y9"><rect class="yb" x="230" y="1811" width="189" height="26" rx="5"/><text class="t" x="236" y="1829">A.上层建筑要适应经济基础的发展</text></g>
<g id="y10"><rect class="yb" x="242" y="1863" width="177" height="26" rx="5"/><text class="t" x="248" y="1881">B.生产关系要适应生产力的发展</text></g>
<g id="y11"><rect class="yb" x="325" y="1916" width="94" height="26" rx="5"/><text class="t" x="331" y="1934">C.物质决定意识</text></g>
<g id="y12"><rect class="yb" x="325" y="2030" width="94" height="26" rx="5"/><text class="t" x="331" y="2048">D.实践决定认识</text></g>
<g id="y13"><rect class="yb" x="51" y="1968" width="250" height="149" rx="5"/><text class="t"><tspan x="57" y="1986">【答案】A。解析：上层建筑系统可分为两个</tspan><tspan x="57" y="2001">基本部分，即政治上层建筑和思想上层建筑。</tspan><tspan x="57" y="2016">政治上层建筑包括政治法律制度，又包括军队</tspan><tspan x="57" y="2032">、警察、监狱、法庭、政治部门等设施;思想</tspan><tspan x="57" y="2047">上层建筑即占统治地位的意识形态，包括政治</tspan><tspan x="57" y="2062">法律思想、道德、宗教、哲学、艺术等观点体</tspan><tspan x="57" y="2078">系。题干里的变化都是属于上层建筑的变化，</tspan><tspan x="57" y="2093">表明上层建筑要适应经济基础的发展。故本题</tspan><tspan x="57" y="2108">正确答案为A。</tspan></text></g>

<!-- pink branch -->
<g id="p1"><rect class="pb" x="366" y="2167" width="250" height="42" rx="5"/><text class="t"><tspan x="372" y="2185">1、第三位有效数字均为0、1、2时，全舍。</tspan><tspan x="372" y="2200">例1. 估算1319.2×4820.4</tspan></text></g>
<g id="p2"><rect class="pb" x="366" y="2281" width="250" height="42" rx="5"/><text class="t"><tspan x="372" y="2299">2、第三位有效数字均为8、9时，全进。例2.</tspan><tspan x="372" y="2314">估算5289×13.9%</tspan></text></g>
<g id="p3"><rect class="pb" x="366" y="2373" width="250" height="179" rx="5"/><text class="t"><tspan x="372" y="2391">3、其他所有情况，一进一舍。以上两种全舍</tspan><tspan x="372" y="2406">或全进的情况都比较简单，在实际计算中，两</tspan><tspan x="372" y="2421">边有效数字都很小或都很大的情况相对较少，</tspan><tspan x="372" y="2437">所以除开以上两种情况，其余情况都是一边进</tspan><tspan x="372" y="2452">位一边舍掉。哪一边进哪一边舍呢?记住一句</tspan><tspan x="372" y="2467">口诀：小数四舍五入，大数反向变化。我们先</tspan><tspan x="372" y="2483">通过前两位有效数字的大小来判断大小数，前</tspan><tspan x="372" y="2498">两位有效数字大的就是大数，前两位有效数字</tspan><tspan x="372" y="2513">小的就是小数，先让小数根据第三位有效数字</tspan><tspan x="372" y="2529">的大小四舍五入，大数这边就只需要跟据小数</tspan><tspan x="372" y="2544">的变化反着来就可以了，保证一进一舍。</tspan></text></g>
<g id="q1"><rect class="pb" x="94" y="2144" width="250" height="88" rx="5"/><text class="t"><tspan x="100" y="2162">解析：这两个数各有5位有效数字，保留前两</tspan><tspan x="100" y="2177">位有效数字即保留13和48，后面的有效数字</tspan><tspan x="100" y="2192">怎么取舍则看第三位有效数字：1和2，两边</tspan><tspan x="100" y="2208">都是0到2中的小数字，所以全部舍掉，将乘</tspan><tspan x="100" y="2223">法估算为1300×4800=6240000。</tspan></text></g>
<g id="q2"><rect class="pb" x="94" y="2258" width="250" height="88" rx="5"/><text class="t"><tspan x="100" y="2276">解析：5289有四位有效数字，13.9%则有三</tspan><tspan x="100" y="2291">位有效数字。保留前两位有效数字即保留52</tspan><tspan x="100" y="2306">和13，第三位有效数字为8和9，这些都是很</tspan><tspan x="100" y="2322">大的数字，所以全部往前进一位。将乘法估算</tspan><tspan x="100" y="2337">为5300×14%=742。</tspan></text></g>
<g id="q3"><rect class="pb" x="195" y="2380" width="149" height="26" rx="5"/><text class="t" x="201" y="2398">例3. 估算56345.3×63.4%</text></g>
<g id="q4"><rect class="pb" x="94" y="2433" width="250" height="195" rx="5"/><text class="t"><tspan x="100" y="2451">解析：这两个数保留前两位有效数字为56和6</tspan><tspan x="100" y="2466">3，观察第三位有效数字是3和4，判断出需要</tspan><tspan x="100" y="2481">一进一舍。我们首先判断出哪一边是"小数"：</tspan><tspan x="100" y="2497">56&lt;63，所以左边是小数，有取舍的优先权</tspan><tspan x="100" y="2512">，在这里要注意判断大小数看的是前两位有效</tspan><tspan x="100" y="2527">数字的大小，而非这两个数本来的大小。因为</tspan><tspan x="100" y="2543">56345这个数的第三位有效数字是"3"，所以</tspan><tspan x="100" y="2558">四舍五入应该舍掉，这个数就估算为"56000"</tspan><tspan x="100" y="2573">。既然小数舍，要满足一进一舍，那么大数就</tspan><tspan x="100" y="2589">要进，即使"63.4%"的第三位有效数字为4，</tspan><tspan x="100" y="2604">要往前进一位，估算为"64%"。56000×64%</tspan><tspan x="100" y="2619">=35840。</tspan></text></g>
</svg>
